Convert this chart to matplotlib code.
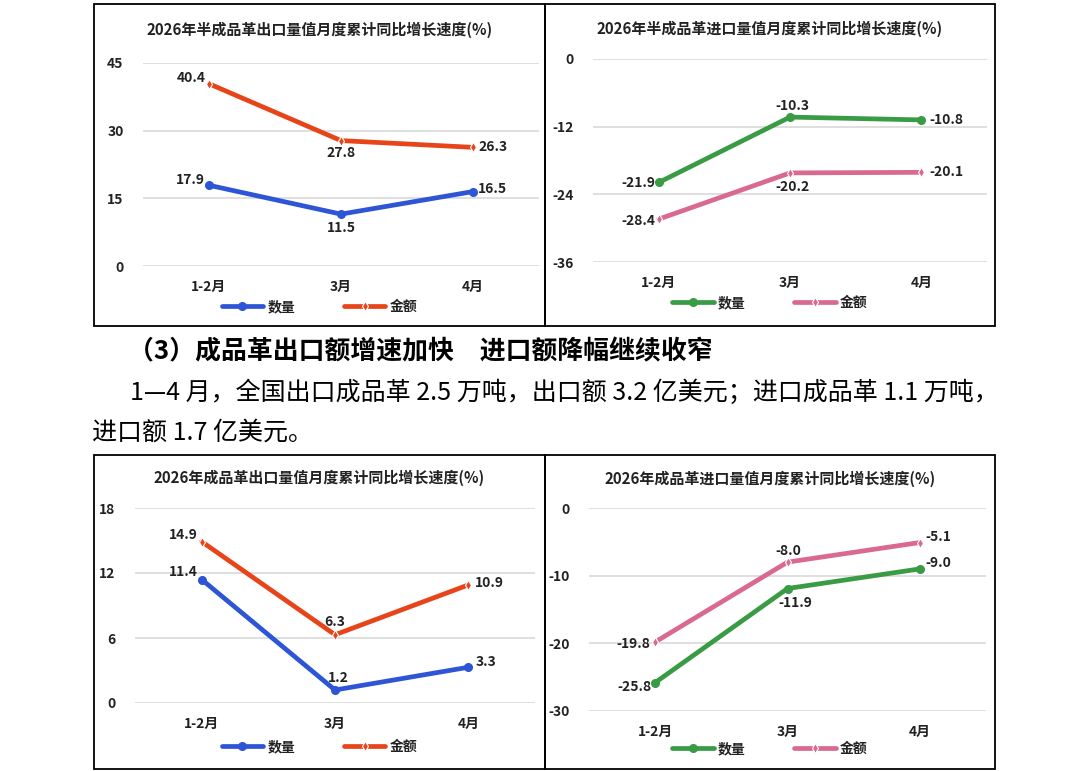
import matplotlib
matplotlib.use("Agg")
import matplotlib.pyplot as plt
from matplotlib.patches import Rectangle

plt.rcParams['font.family'] = ['Noto Sans CJK SC', 'DejaVu Sans']

W, H = 1087, 771

months = ["1-2月", "3月", "4月"]
series_names = ["数量", "金额"]

# 半成品革 出口 / 进口
semi_export_qty = [17.9, 11.5, 16.5]
semi_export_val = [40.4, 27.8, 26.3]
semi_import_qty = [-21.9, -10.3, -10.8]
semi_import_val = [-28.4, -20.2, -20.1]
# 成品革 出口 / 进口
fin_export_qty = [11.4, 1.2, 3.3]
fin_export_val = [14.9, 6.3, 10.9]
fin_import_qty = [-25.8, -11.9, -9.0]
fin_import_val = [-19.8, -8.0, -5.1]

title_semi_export = "2026年半成品革出口量值月度累计同比增长速度(%)"
title_semi_import = "2026年半成品革进口量值月度累计同比增长速度(%)"
title_fin_export = "2026年成品革出口量值月度累计同比增长速度(%)"
title_fin_import = "2026年成品革进口量值月度累计同比增长速度(%)"

heading = "（3）成品革出口额增速加快　进口额降幅继续收窄"
body1 = "1—4 月，全国出口成品革 2.5 万吨，出口额 3.2 亿美元；进口成品革 1.1 万吨，"
body2 = "进口额 1.7 亿美元。"

BLUE, RED = "#2D55D5", "#E8441A"
GREEN, PINK = "#3A9B45", "#D96991"

fig = plt.figure(figsize=(W / 100, H / 100), dpi=100)


def fx(x):
    return x / W


def fy(y):
    return 1 - y / H


def box(x0, y0, x1, y1):
    fig.patches.append(Rectangle((fx(x0), fy(y1)), fx(x1 - x0), (y1 - y0) / H,
                                 transform=fig.transFigure, fill=False,
                                 edgecolor="black", linewidth=1.3))


def panel(ext, yticks, qty, val, colors, title, bx, title_y, legend_y, offs):
    x0, y0, x1, y1 = ext
    ax = fig.add_axes([fx(x0), fy(y1), fx(x1 - x0), (y1 - y0) / H])
    xs = range(len(months))
    ax.plot(xs, qty, color=colors[0], lw=3.4, marker="o", ms=5.5,
            solid_capstyle="round", label=series_names[0], zorder=3)
    ax.plot(xs, val, color=colors[1], lw=3.4, marker="d", ms=5.5, mew=0.8,
            mfc=colors[1], mec="white", solid_capstyle="round",
            label=series_names[1], zorder=3)
    for vals, o in ((qty, offs[0]), (val, offs[1])):
        for i, v in enumerate(vals):
            ax.annotate(f"{v:.1f}", (i, v), xytext=o[i], textcoords="offset pixels",
                        ha="center", va="center", fontsize=10, fontweight="bold",
                        color="#222222")
    ax.set_xlim(-0.5, 2.5)
    ax.set_ylim(yticks[0], yticks[-1])
    ax.set_yticks(yticks)
    ax.set_yticklabels([str(t) for t in yticks])
    ax.set_xticks(list(xs))
    ax.set_xticklabels(months)
    ax.grid(axis="y", color="#D9D9D9", lw=1.2)
    ax.set_axisbelow(True)
    for s in ax.spines.values():
        s.set_visible(False)
    ax.tick_params(length=0, labelsize=10, colors="#222222")
    ax.tick_params(axis="x", pad=10)
    ax.tick_params(axis="y", pad=14)
    for lb in ax.get_xticklabels() + ax.get_yticklabels():
        lb.set_fontweight("bold")
    cx = (bx[0] + bx[1]) / 2
    fig.text(fx(cx), fy(title_y), title, ha="center", va="center",
             fontsize=10.8, fontweight="bold", color="#222222")
    leg = ax.legend(loc="center", bbox_to_anchor=(fx(cx), fy(legend_y)),
                    bbox_transform=fig.transFigure, ncol=2, frameon=False,
                    prop={"size": 10, "weight": "bold"}, handlelength=3,
                    columnspacing=3.5, handletextpad=0.3)
    for t in leg.get_texts():
        t.set_color("#222222")
    return ax


# boxes
box(94, 4, 545, 326)
box(545, 4, 995, 326)
box(94, 455, 545, 769)
box(545, 455, 995, 769)

panel((143, 63, 539, 266), [0, 15, 30, 45], semi_export_qty, semi_export_val,
      (BLUE, RED), title_semi_export, (94, 545), 30, 307,
      ([(-19, 5), (0, -14), (19, 3)], [(-18, 6), (0, -12), (20, 0)]))
panel((593, 59, 987, 262), [-36, -24, -12, 0], semi_import_qty, semi_import_val,
      (GREEN, PINK), title_semi_import, (545, 995), 29, 303,
      ([(-20, -1), (2, 11), (25, 0)], [(-20, -2), (2, -14), (25, 0)]))
panel((135, 508, 535, 703), [0, 6, 12, 18], fin_export_qty, fin_export_val,
      (BLUE, RED), title_fin_export, (94, 545), 478, 747,
      ([(-18, 7), (3, 12), (18, 5)], [(-18, 7), (0, 13), (21, 2)]))
panel((589, 508, 986, 711), [-30, -20, -10, 0], fin_import_qty, fin_import_val,
      (GREEN, PINK), title_fin_import, (545, 995), 479, 749,
      ([(-21, -4), (8, -14), (18, 6)], [(-22, -2), (1, 11), (18, 6)]))

fig.text(fx(128), fy(352), heading, ha="left", va="center", fontsize=18.6,
         fontweight="bold", color="black")
fig.text(fx(130), fy(393), body1, ha="left", va="center", fontsize=18,
         color="black")
fig.text(fx(92), fy(433), body2, ha="left", va="center", fontsize=18,
         color="black")

fig.savefig("out.png", dpi=100)
